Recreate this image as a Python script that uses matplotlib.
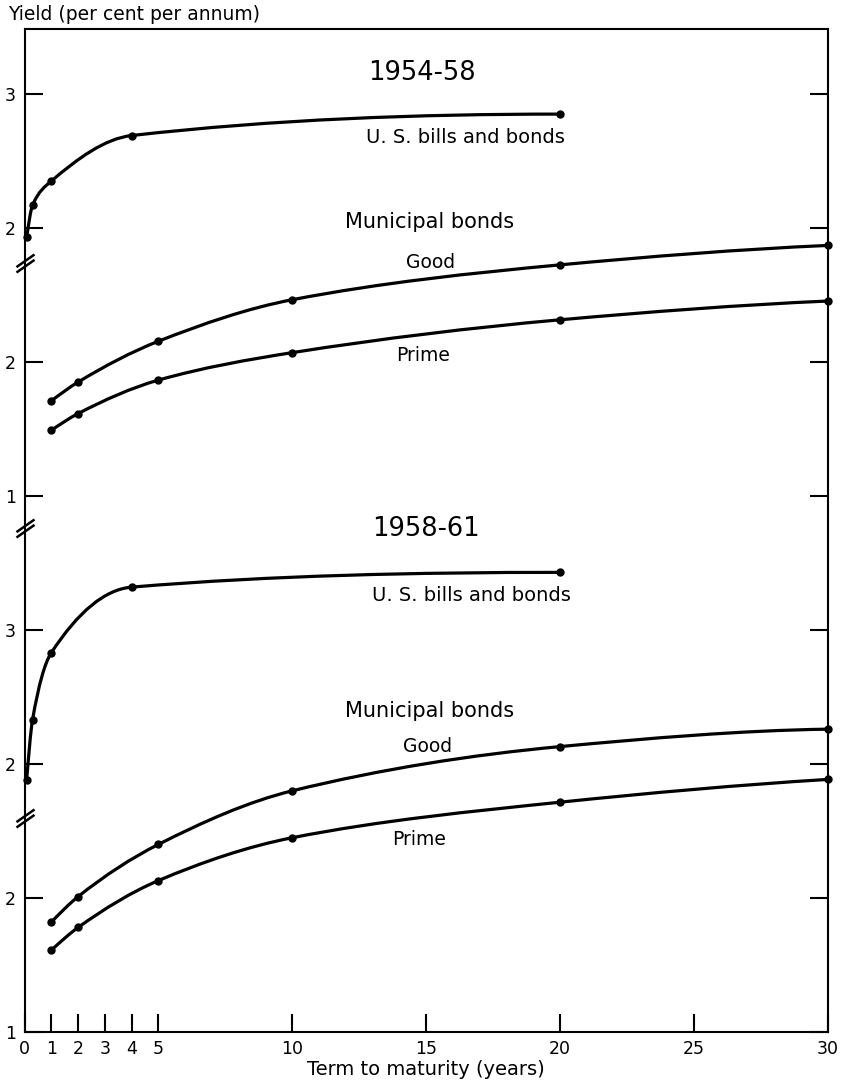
import numpy as np
import matplotlib
matplotlib.use("Agg")
import matplotlib.pyplot as plt
from matplotlib.path import Path
from matplotlib.patches import PathPatch

# ---------------- data ----------------
term_us = [0.08, 0.3, 1, 4, 20]                 # years
term_muni = [1, 2, 5, 10, 20, 30]               # years

us_1954 = [1.93, 2.17, 2.35, 2.69, 2.85]
good_1954 = [1.71, 1.85, 2.155, 2.465, 2.725, 2.87]
prime_1954 = [1.49, 1.615, 1.865, 2.07, 2.315, 2.455]

us_1958 = [1.88, 2.33, 2.83, 3.32, 3.43]
good_1958 = [1.82, 2.01, 2.40, 2.80, 3.13, 3.26]
prime_1958 = [1.61, 1.78, 2.13, 2.45, 2.715, 2.885]

x_ticks = [0, 1, 2, 3, 4, 5, 10, 15, 20, 25, 30]
x_ticklabels = ["0", "1", "2", "3", "4", "5", "10", "15", "20", "25", "30"]

# broken-axis layers: y ticks of each band
layer_a_ticks = [2, 3]   # U.S. 1954-58
layer_b_ticks = [1, 2]   # Municipal 1954-58
layer_c_ticks = [2, 3]   # U.S. 1958-61
layer_d_ticks = [1, 2]   # Municipal 1958-61

# ---------------- layout ----------------
W, Hpx = 842, 1088
left_px, right_px, top_px, bottom_px = 24.5, 828, 29, 1032
unit_px = 134.0
span = (bottom_px - top_px) / unit_px
offsets = {"A": 4, "B": 3, "C": 0, "D": -1}

fig = plt.figure(figsize=(W / 100, Hpx / 100), dpi=100)
rect = [left_px / W, (Hpx - bottom_px) / Hpx,
        (right_px - left_px) / W, (bottom_px - top_px) / Hpx]

LW_SPINE = 1.5
TICKLEN = 13
TICKFS = 12.5

base = fig.add_axes(rect, label="D")
axes = {"D": base}
for key in ["C", "B", "A"]:
    a = fig.add_axes(rect, label=key, sharex=base)
    a.patch.set_alpha(0)
    for s in a.spines.values():
        s.set_visible(False)
    a.xaxis.set_visible(False)
    axes[key] = a

ticks = {"A": layer_a_ticks, "B": layer_b_ticks, "C": layer_c_ticks, "D": layer_d_ticks}
for key, a in axes.items():
    off = offsets[key]
    a.set_ylim(0 - off, span - off)
    a.set_yticks(ticks[key])
    a.set_yticklabels([str(t) for t in ticks[key]])
    a.tick_params(axis="y", direction="in", length=TICKLEN, width=LW_SPINE,
                  left=True, right=True, labelleft=True, labelright=False,
                  labelsize=TICKFS, pad=6)

for s in base.spines.values():
    s.set_linewidth(LW_SPINE)
base.set_xlim(0, 30)
base.set_xticks(x_ticks)
base.set_xticklabels(x_ticklabels)
base.tick_params(axis="x", direction="in", length=TICKLEN, width=LW_SPINE,
                 top=False, labelsize=TICKFS, pad=6)
base.set_xlabel("Term to maturity (years)", fontsize=14, labelpad=1)


def pchip_slopes(x, y):
    x = np.asarray(x, float)
    y = np.asarray(y, float)
    h = np.diff(x)
    d = np.diff(y) / h
    n = len(x)
    m = np.zeros(n)
    for k in range(1, n - 1):
        if d[k - 1] * d[k] > 0:
            w1 = 2 * h[k] + h[k - 1]
            w2 = h[k] + 2 * h[k - 1]
            m[k] = (w1 + w2) / (w1 / d[k - 1] + w2 / d[k])

    def end(h0, h1, d0, d1):
        mm = ((2 * h0 + h1) * d0 - h0 * d1) / (h0 + h1)
        if np.sign(mm) != np.sign(d0):
            mm = 0.0
        elif np.sign(d0) != np.sign(d1) and abs(mm) > abs(3 * d0):
            mm = 3 * d0
        return mm

    m[0] = end(h[0], h[1], d[0], d[1])
    m[-1] = end(h[-1], h[-2], d[-1], d[-2])
    return m


def smooth_curve(ax, x, y):
    m = pchip_slopes(x, y)
    verts = [(x[0], y[0])]
    codes = [Path.MOVETO]
    for i in range(len(x) - 1):
        h = x[i + 1] - x[i]
        verts += [(x[i] + h / 3, y[i] + m[i] * h / 3),
                  (x[i + 1] - h / 3, y[i + 1] - m[i + 1] * h / 3),
                  (x[i + 1], y[i + 1])]
        codes += [Path.CURVE4] * 3
    ax.add_patch(PathPatch(Path(verts, codes), fill=False, lw=2.3,
                           edgecolor="black", capstyle="round",
                           joinstyle="round", clip_on=False, zorder=3))
    ax.plot(x, y, "o", ms=5, color="black", clip_on=False, zorder=4)


smooth_curve(axes["A"], term_us, us_1954)
smooth_curve(axes["B"], term_muni, good_1954)
smooth_curve(axes["B"], term_muni, prime_1954)
smooth_curve(axes["C"], term_us, us_1958)
smooth_curve(axes["D"], term_muni, good_1958)
smooth_curve(axes["D"], term_muni, prime_1958)

for key, a in axes.items():
    off = offsets[key]
    a.set_ylim(0 - off, span - off)
base.set_xlim(0, 30)

# ---------------- labels ----------------
TXT = 14.5
YR = 18.5
SUB = 13.5
axes["A"].text(14.85, 3.157, "1954-58", fontsize=YR, ha="center", va="center")
axes["A"].text(16.45, 2.672, "U. S. bills and bonds", fontsize=14, ha="center", va="center")
axes["B"].text(15.12, 3.045, "Municipal bonds", fontsize=TXT + 0.5, ha="center", va="center")
axes["B"].text(15.17, 2.739, "Good", fontsize=SUB, ha="center", va="center")
axes["B"].text(14.87, 2.045, "Prime", fontsize=SUB, ha="center", va="center")

axes["C"].text(14.97, 3.754, "1958-61", fontsize=YR, ha="center", va="center")
axes["C"].text(16.67, 3.261, "U. S. bills and bonds", fontsize=14, ha="center", va="center")
axes["D"].text(15.12, 3.396, "Municipal bonds", fontsize=TXT + 0.5, ha="center", va="center")
axes["D"].text(15.04, 3.127, "Good", fontsize=SUB, ha="center", va="center")
axes["D"].text(14.72, 2.433, "Prime", fontsize=SUB, ha="center", va="center")

fig.text(8 / W, 1 - 14 / Hpx, "Yield (per cent per annum)", fontsize=13.5,
         ha="left", va="center")

# ---------------- axis-break marks on the left spine ----------------
break_px = [263, 528, 818]
brk = Path([(-1, -1.0), (1, 0.4), (-1, -0.4), (1, 1.0)],
           [Path.MOVETO, Path.LINETO, Path.MOVETO, Path.LINETO])
for bp in break_px:
    frac = (bottom_px - bp) / (bottom_px - top_px)
    base.plot([0], [frac], transform=base.transAxes, marker=brk, ms=13,
              mfc="none", mec="black", mew=1.8, ls="none",
              clip_on=False, zorder=6)

fig.savefig("out.png", dpi=100, facecolor="white")
